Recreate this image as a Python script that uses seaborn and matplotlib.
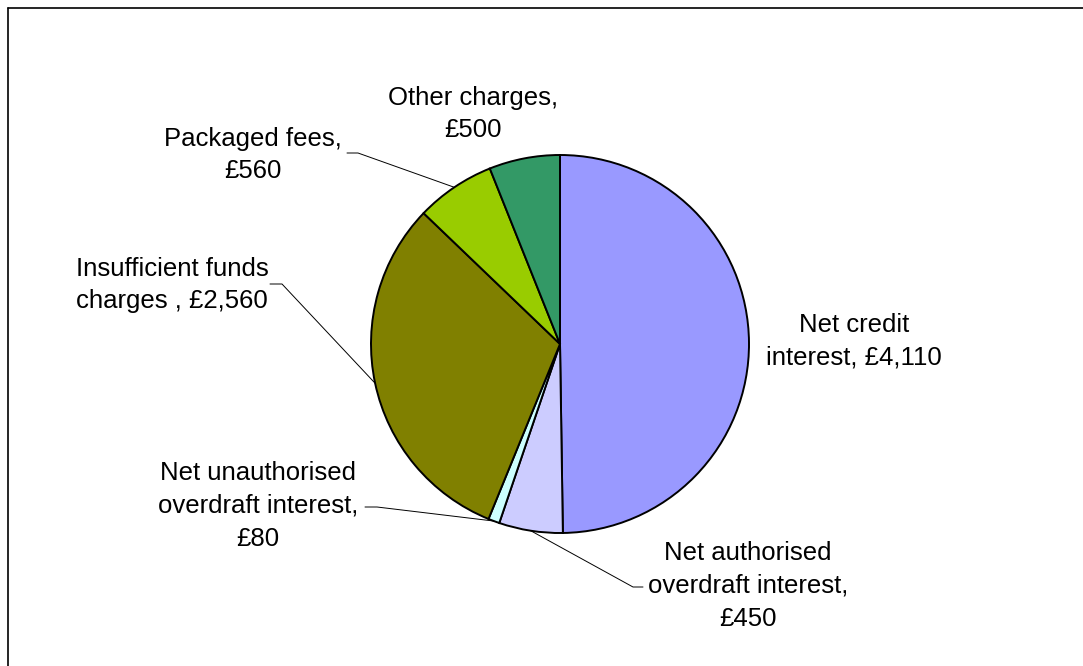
import numpy as np
import matplotlib
matplotlib.use("Agg")
import matplotlib.pyplot as plt
from matplotlib.lines import Line2D
import seaborn as sns

# Revenue components per account (GBP)
categories = [
    "Net credit\ninterest",
    "Net authorised\noverdraft interest",
    "Net unauthorised\noverdraft interest",
    "Insufficient funds\ncharges ",
    "Packaged fees",
    "Other charges",
]
values = [4110, 450, 80, 2560, 560, 500]
label_text = [
    "Net credit\ninterest, £4,110",
    "Net authorised\noverdraft interest,\n£450",
    "Net unauthorised\noverdraft interest,\n£80",
    "Insufficient funds\ncharges , £2,560",
    "Packaged fees,\n£560",
    "Other charges,\n£500",
]
colors = ["#9999FF", "#CCCCFF", "#CCFFFF", "#808000", "#99CC00", "#339966"]

sns.set_theme(style="white")
plt.rcParams["font.family"] = ["Liberation Sans", "DejaVu Sans"]

W, H = 1083, 666
fig = plt.figure(figsize=(W / 100, H / 100), dpi=100)
ax = fig.add_axes([0, 0, 1, 1])

# pie laid out in pixel units (y up)
cx, cy, r = 560, H - 344, 189
wedges, _ = ax.pie(
    values, colors=sns.color_palette(colors), startangle=90, counterclock=False,
    center=(cx, cy), radius=r, frame=True,
    wedgeprops=dict(edgecolor="black", linewidth=1.4),
)
ax.set_xlim(0, W)
ax.set_ylim(0, H)
ax.set_aspect("auto")
ax.set_axis_off()

# label placement: text centre, and leader (elbow, end) if any
label_pos = [(854, 341), (748, 586), (258, 506), (172, 285), (253, 155), (473, 114)]
leaders = [None, ((633, 587), (643, 587)), ((377, 507), (365, 507)),
           ((282, 284), (270, 284)), ((358, 153), (347, 153)), None]

total = sum(values)
cum = np.cumsum([0] + values)
for i, txt in enumerate(label_text):
    x, y = label_pos[i]
    ax.text(x, H - y, txt, ha="center", va="center", fontsize=18.5,
            color="black", linespacing=1.47)
    if leaders[i] is not None:
        mid = (cum[i] + values[i] / 2) / total * 2 * np.pi
        ax_x = cx + r * np.sin(mid)
        ax_y = cy + r * np.cos(mid)
        (ex, ey), (tx, ty) = leaders[i]
        ax.plot([ax_x, ex, tx], [ax_y, H - ey, H - ty], color="black",
                linewidth=0.7, solid_joinstyle="miter")

# outer chart border (left and top edges visible)
fig.add_artist(Line2D([7.5 / W, 7.5 / W], [0, 1 - 7.5 / H], transform=fig.transFigure,
                      color="black", linewidth=1.2))
fig.add_artist(Line2D([7.5 / W, 1], [1 - 7.5 / H, 1 - 7.5 / H], transform=fig.transFigure,
                      color="black", linewidth=1.2))

fig.savefig("out.png", dpi=100, facecolor="white")
